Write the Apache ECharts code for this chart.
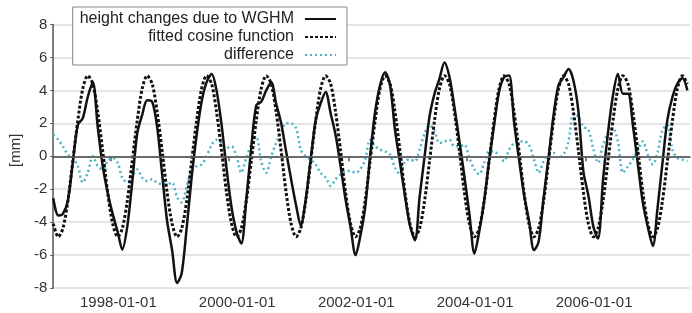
<!DOCTYPE html>
<html>
<head>
<meta charset="utf-8">
<script src="https://cdn.jsdelivr.net/npm/echarts@6/dist/echarts.min.js"></script>
<style>
    html, body { margin: 0; padding: 0; background: #fff; }
    #chart { width: 692px; height: 313px; }
</style>
</head>
<body>
<div id="chart"></div>
<script>
// monthly samples, Jan 1997 .. Sep 2007
const years = [1997, 1998, 1999, 2000, 2001, 2002, 2003, 2004, 2005, 2006, 2007];
const monthDays = ['01-15', '02-15', '03-15', '04-15', '05-15', '06-15',
    '07-15', '08-15', '09-15', '10-15', '11-15', '12-15'];
const tickDates = ['1998-01-01', '2000-01-01', '2002-01-01', '2004-01-01', '2006-01-01'];

const wghm = [
    -2.55, -3.6, -3.5, -2.7, -0.4, 1.9, 2.3, 3.6, 4.5, 1.8, -0.6, -2.2,
    -3.5, -4.6, -5.67, -4.25, -1.6, 1.4, 2.5, 3.4, 3.3, 1.8, -1.1, -3.9,
    -5.7, -7.7, -7.1, -4.3, -1.3, 1.3, 3.3, 4.5, 5.0, 4.0, 1.9, -0.7,
    -3.1, -4.6, -5.3, -2.6, 0.5, 3.1, 3.3, 4.0, 4.5, 3.2, 2.0, 0.3,
    -1.4, -3.0, -4.2, -2.6, -0.2, 2.2, 3.2, 3.9, 2.6, 1.3, -0.6, -2.6,
    -4.3, -6.0, -4.9, -3.1, 0.0, 2.7, 4.3, 5.1, 4.3, 1.6, -0.4, -2.4,
    -4.2, -5.1, -2.5, 0.0, 2.4, 3.8, 4.7, 5.7, 4.8, 3.0, 0.9, -1.2,
    -3.5, -5.9, -4.6, -2.7, -0.3, 1.9, 3.9, 4.8, 4.9, 2.1, -0.2, -2.3,
    -3.9, -5.7, -5.2, -2.5, -0.1, 2.5, 4.3, 4.8, 5.3, 4.6, 2.7, -0.9,
    -2.4, -4.3, -5.0, -1.4, 1.4, 3.7, 5.0, 3.8, 3.8, 1.9, -0.5, -2.8,
    -4.3, -5.45, -3.2, -0.4, 2.2, 3.6, 4.4, 4.75, 4.0
];

const fitted = [
    -4.09, -4.89, -4.39, -2.70, -0.31, 2.17, 4.09, 4.89, 4.39, 2.70, 0.31, -2.17,
    -4.09, -4.89, -4.39, -2.70, -0.31, 2.17, 4.09, 4.89, 4.39, 2.70, 0.31, -2.17,
    -4.09, -4.89, -4.39, -2.70, -0.31, 2.17, 4.09, 4.89, 4.39, 2.70, 0.31, -2.17,
    -4.09, -4.89, -4.39, -2.70, -0.31, 2.17, 4.09, 4.89, 4.39, 2.70, 0.31, -2.17,
    -4.09, -4.89, -4.39, -2.70, -0.31, 2.17, 4.09, 4.89, 4.39, 2.70, 0.31, -2.17,
    -4.09, -4.89, -4.39, -2.70, -0.31, 2.17, 4.09, 4.89, 4.39, 2.70, 0.31, -2.17,
    -4.09, -4.89, -4.39, -2.70, -0.31, 2.17, 4.09, 4.89, 4.39, 2.70, 0.31, -2.17,
    -4.09, -4.89, -4.39, -2.70, -0.31, 2.17, 4.09, 4.89, 4.39, 2.70, 0.31, -2.17,
    -4.09, -4.89, -4.39, -2.70, -0.31, 2.17, 4.09, 4.89, 4.39, 2.70, 0.31, -2.17,
    -4.09, -4.89, -4.39, -2.70, -0.31, 2.17, 4.09, 4.89, 4.39, 2.70, 0.31, -2.17,
    -4.09, -4.89, -4.39, -2.70, -0.31, 2.17, 4.09, 4.89, 4.39
];

const difference = [
    1.3, 1.0, 0.6, 0.1, -0.1, -0.6, -1.6, -1.0, 0.0, -0.6, -0.8, -0.3,
    -0.1, -0.4, -1.3, -1.6, -1.2, -0.8, -1.3, -1.5, -1.4, -1.6, -1.7, -1.7,
    -1.6, -2.5, -2.8, -1.8, -0.9, -0.6, -0.5, 0.0, 0.7, 1.0, 0.8, 0.5,
    0.6, 0.0, -1.0, -0.1, 0.7, 1.2, -0.3, -1.0, 0.0, 0.8, 1.5, 2.0,
    2.0, 1.7, 0.4, 0.0, -0.2, -0.5, -1.0, -1.3, -1.8, -1.4, -1.1, -0.9,
    -0.9, -1.0, -0.8, -0.2, 1.0, 0.6, 0.4, 0.3, 0.1, -0.7, -1.1, -0.3,
    -0.2, -0.3, 0.4, 1.4, 1.9, 1.5, 0.8, 0.9, 1.0, 0.6, 0.6, 0.7,
    -0.1, -0.8, -1.1, -0.4, 0.3, 0.3, 0.0, -0.3, 0.4, 0.8, 0.9, 0.9,
    0.7, -0.2, -1.0, -0.3, 0.1, 0.2, -0.1, 0.1, 0.9, 2.6, 2.4, 1.8,
    1.6, 0.4, -0.4, 0.7, 1.4, 1.7, 0.9, -1.0, -0.6, -0.2, 0.4, 0.9,
    0.1, -0.5, 0.2, 1.6, 1.9, 0.4, -0.1, -0.2, -0.3
];

const seriesNames = ['height changes due to WGHM', 'fitted cosine function', 'difference'];

const fontFamily = '"Liberation Sans", Arial, sans-serif';

const dates = years
    .flatMap(y => monthDays.map(md => y + '-' + md))
    .slice(0, wghm.length);

function pairs(values) {
    return dates.map((d, i) => [d, values[i]]);
}

let chartDom = document.getElementById('chart');
let myChart = echarts.init(chartDom, null, { renderer: 'canvas' });
let option;

const lineOptions = {
    type: 'line',
    symbol: 'none',
    showSymbol: false,
    smooth: 0.3,
    animation: false
};

option = {
    animation: false,
    textStyle: { fontFamily },
    grid: { left: 46, right: 2, top: 24.5, bottom: 25 },
    legend: {
        orient: 'vertical',
        align: 'right',
        right: 345,
        top: 7,
        padding: [4, 10, 2, 7],
        itemWidth: 31,
        itemHeight: 14,
        itemGap: 2,
        backgroundColor: '#fff',
        borderColor: '#888',
        borderWidth: 1,
        itemStyle: { color: 'rgba(0,0,0,0)', borderColor: 'rgba(0,0,0,0)', borderWidth: 0 },
        textStyle: { fontSize: 16, color: '#222', fontFamily, padding: [0, 6, 0, 0] },
        data: seriesNames
    },
    xAxis: {
        type: 'time',
        min: '1997-01-15',
        max: '2007-10-01',
        axisLine: { lineStyle: { color: '#555', width: 1.5 } },
        axisTick: { show: true, length: 5, customValues: tickDates, lineStyle: { color: '#555', width: 1.5 } },
        axisLabel: {
            customValues: tickDates,
            formatter: '{yyyy}-{MM}-{dd}',
            fontSize: 15,
            color: '#333',
            margin: 7,
            padding: [0, 0, 0, 16],
            fontFamily
        },
        splitLine: { show: false }
    },
    yAxis: {
        type: 'value',
        min: -8,
        max: 8,
        interval: 2,
        name: '[mm]',
        nameLocation: 'middle',
        nameRotate: 90,
        nameGap: 28,
        nameTextStyle: { fontSize: 15, color: '#333', fontFamily, padding: [0, 0, 0, 12] },
        axisLine: { show: true, lineStyle: { color: '#555', width: 1.5 } },
        axisTick: { show: true, length: 3, lineStyle: { color: '#555' } },
        axisLabel: { fontSize: 15, color: '#333', margin: 6, fontFamily },
        splitLine: { show: true, lineStyle: { color: '#dcdcdc', width: 1.5 } }
    },
    series: [
        {
            name: seriesNames[0],
            data: pairs(wghm),
            ...lineOptions,
            z: 3,
            lineStyle: { color: '#111', width: 2.5 },
            itemStyle: { color: '#111' },
            markLine: {
                silent: true,
                symbol: 'none',
                label: { show: false },
                lineStyle: { color: '#666', width: 1.5, type: 'solid' },
                data: [{ yAxis: 0 }]
            }
        },
        {
            name: seriesNames[1],
            data: pairs(fitted),
            ...lineOptions,
            z: 2,
            lineStyle: { color: '#111', width: 3, type: [3, 2] },
            itemStyle: { color: '#111' }
        },
        {
            name: seriesNames[2],
            data: pairs(difference),
            ...lineOptions,
            z: 1,
            lineStyle: { color: '#4db3c9', width: 2.5, type: [2, 3] },
            itemStyle: { color: '#4db3c9' }
        }
    ]
};

option && myChart.setOption(option);
</script>
</body>
</html>
